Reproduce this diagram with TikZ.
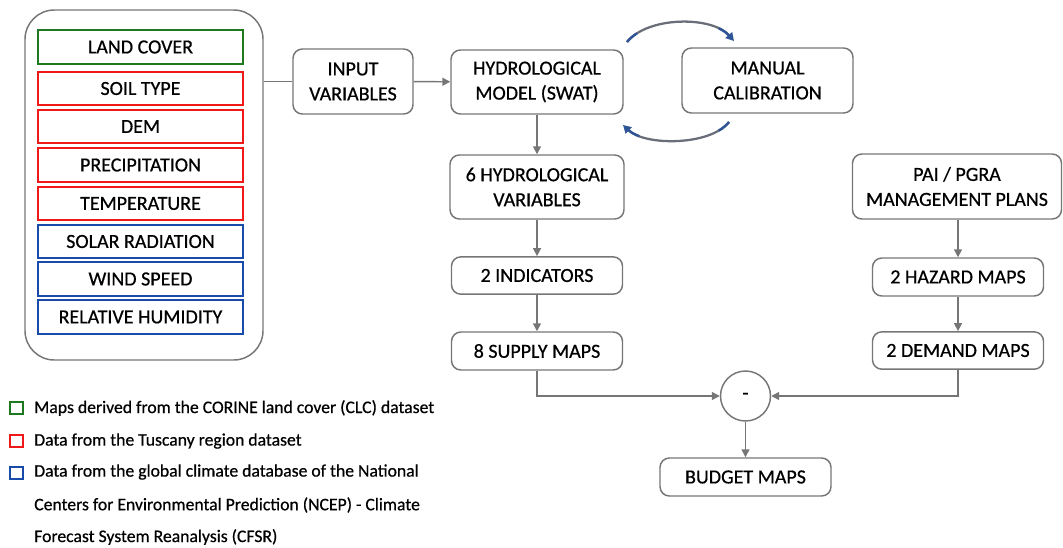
\documentclass[tikz,border=0pt]{standalone}
\usepackage{fontspec}
\setmainfont{Carlito}[BoldFont=Carlito,BoldFeatures={FakeBold=0.6}]
\usetikzlibrary{arrows.meta,calc}
\definecolor{boxgray}{RGB}{118,118,118}
\definecolor{lgreen}{RGB}{30,120,30}
\definecolor{lred}{RGB}{240,25,25}
\definecolor{lblue}{RGB}{25,75,170}
\definecolor{arcblue}{RGB}{47,85,151}
\definecolor{arcgray}{RGB}{105,110,120}
\begin{document}
\begin{tikzpicture}[x=0.75pt,y=-0.75pt,
  box/.style={draw=boxgray,line width=1.1pt,rounded corners=7pt,align=center,
    font=\fontsize{15}{18.75}\selectfont\bfseries,inner sep=0pt},
  databox/.style={draw=#1,line width=1.5pt,minimum width=153.75pt,minimum height=25pt,
    inner sep=0pt,font=\fontsize{15}{18}\selectfont\bfseries},
  conn/.style={draw=boxgray,line width=1.1pt,-{Triangle[length=6pt,width=6pt]}},
  plain/.style={draw=boxgray,line width=1.1pt},
  legsq/.style={draw=#1,line width=1.5pt,minimum size=9.5pt,inner sep=0pt},
  legtxt/.style={anchor=west,inner sep=0pt,font=\fontsize{13.25}{15}\selectfont\bfseries},
  arcline/.style={draw=arcgray,line width=1.7pt},
  arcend/.style={draw=arcblue,line width=1.8pt,dash pattern=on 10pt off 400pt}
]
\useasboundingbox (0,0) rectangle (1063,547);

% outer container
\node[draw=boxgray,line width=1.1pt,rounded corners=22pt,minimum width=178.5pt,
      minimum height=262.5pt,inner sep=0pt] (outer) at (144,185) {};

% data boxes
\node[databox=lgreen] (lc)   at (140.5,47)    {LAND COVER};
\node[databox=lred]   (soil) at (140.5,88.5)  {SOIL TYPE};
\node[databox=lred]   (dem)  at (140.5,126.5) {DEM};
\node[databox=lred]   (prec) at (140.5,165)   {PRECIPITATION};
\node[databox=lred]   (temp) at (140.5,203.5) {TEMPERATURE};
\node[databox=lblue]  (sol)  at (140.5,241.5) {SOLAR RADIATION};
\node[databox=lblue]  (wind) at (140.5,279)   {WIND SPEED};
\node[databox=lblue]  (hum)  at (140.5,317)   {RELATIVE HUMIDITY};

% main flow
\node[box,minimum width=90pt,minimum height=48.75pt] (input) at (353,81.5) {INPUT\\VARIABLES};
\node[box,minimum width=129pt,minimum height=48pt] (hydro) at (537,82) {HYDROLOGICAL\\MODEL (SWAT)};
\node[box,minimum width=128.25pt,minimum height=48.75pt] (manual) at (767.5,80.5) {MANUAL\\CALIBRATION};
\node[box,minimum width=130.5pt,minimum height=48pt] (hvar) at (537,187) {6 HYDROLOGICAL\\VARIABLES};
\node[box,minimum width=128.25pt,minimum height=28pt] (ind) at (537,275.5) {2 INDICATORS};
\node[box,minimum width=128.25pt,minimum height=28.5pt] (supply) at (537,351) {8 SUPPLY MAPS};
\node[box,minimum width=156.75pt,minimum height=48.75pt] (pai) at (957,186.5) {PAI / PGRA\\MANAGEMENT PLANS};
\node[box,minimum width=128.25pt,minimum height=28.5pt] (hazard) at (958,277) {2 HAZARD MAPS};
\node[box,minimum width=128.25pt,minimum height=28pt] (demand) at (958,350.5) {2 DEMAND MAPS};
\node[draw=boxgray,line width=1.1pt,circle,minimum size=37.5pt,inner sep=0pt,
      font=\fontsize{15}{18}\selectfont\bfseries] (minus) at (745.5,396) {-};
\node[box,minimum width=128.25pt,minimum height=28.5pt] (budget) at (745.5,477) {BUDGET MAPS};

% connectors
\draw[plain] (input.west -| outer.east) -- (input.west);
\draw[conn] (input) -- (hydro);
\draw[conn] (hydro) -- (hvar);
\draw[conn] (hvar) -- (ind);
\draw[conn] (ind) -- (supply);
\draw[conn] (pai.south -| hazard.north) -- (hazard);
\draw[conn] (hazard) -- (demand);
\draw[conn] (supply.south) |- (minus.west);
\draw[conn] (demand.south) |- (minus.east);
\draw[conn] (minus) -- (budget);

% calibration loop arcs
\coordinate (a1) at (627,42);
\coordinate (a2) at (734,41);
\coordinate (b1) at (729,122);
\coordinate (b2) at (623,125);
\draw[arcline,-{Triangle[length=6pt,width=6.5pt,color=arcblue]}]
  (a1) .. controls (648,16) and (712,16) .. (a2);
\draw[arcend] (a1) .. controls (648,16) and (712,16) .. (a2);
\draw[arcend,shorten <=5pt] (a2) .. controls (712,16) and (648,16) .. (a1);
\draw[arcline,-{Triangle[length=6pt,width=6.5pt,color=arcblue]}]
  (b1) .. controls (710,146) and (645,146) .. (b2);
\draw[arcend] (b1) .. controls (710,146) and (645,146) .. (b2);
\draw[arcend,shorten <=5pt] (b2) .. controls (645,146) and (710,146) .. (b1);

% legend
\node[legsq=lgreen] (sqg) at (16.5,408) {};
\node[legsq=lred]   (sqr) at (16.5,441) {};
\node[legsq=lblue]  (sqb) at (16.5,473) {};
\node[legtxt] (lg1) at (34,408) {Maps derived from the CORINE land cover (CLC) dataset};
\node[legtxt] (lg2) at (34,441) {Data from the Tuscany region dataset};
\node[legtxt] (lg3) at (34,472) {Data from the global climate database of the National};
\node[legtxt] (lg4) at (34,505) {Centers for Environmental Prediction (NCEP) - Climate};
\node[legtxt] (lg5) at (34,537) {Forecast System Reanalysis (CFSR)};
\end{tikzpicture}
\end{document}
